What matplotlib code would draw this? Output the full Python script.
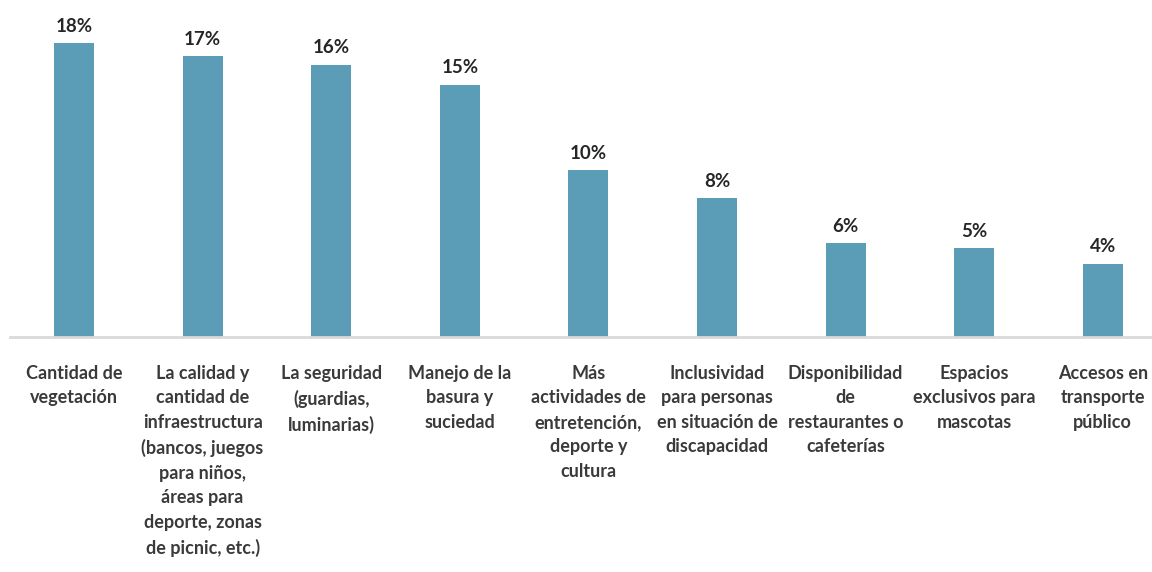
import matplotlib
matplotlib.use("Agg")
import matplotlib.pyplot as plt

categories = [
    "Cantidad de\nvegetación",
    "La calidad y\ncantidad de\ninfraestructura\n(bancos, juegos\npara niños,\náreas para\ndeporte, zonas\nde picnic, etc.)",
    "La seguridad\n(guardias,\nluminarias)",
    "Manejo de la\nbasura y\nsuciedad",
    "Más\nactividades de\nentretención,\ndeporte y\ncultura",
    "Inclusividad\npara personas\nen situación de\ndiscapacidad",
    "Disponibilidad\nde\nrestaurantes o\ncafeterías",
    "Espacios\nexclusivos para\nmascotas",
    "Accesos en\ntransporte\npúblico",
]
values = [17.6, 16.8, 16.3, 15.1, 10.0, 8.3, 5.6, 5.3, 4.4]
labels = ["18%", "17%", "16%", "15%", "10%", "8%", "6%", "5%", "4%"]

W, H = 1152, 572
fig = plt.figure(figsize=(W / 100, H / 100), dpi=100)
left_px, base_px, step_px, first_px = 9.7, 337, 128.6, 74
ppu = 16.7
ymax = 20
right_lim = (W - first_px) / step_px
ax = fig.add_axes([left_px / W, (H - base_px) / H, (W - left_px) / W, ymax * ppu / H])

x = list(range(len(categories)))
color = "#5B9DB7"
ax.bar(x, values, width=0.31, color=color, zorder=2)
ax.set_xlim(-0.5, right_lim)
ax.set_ylim(0, ymax)

font = "Lato"
for xi, v, lab in zip(x, values, labels):
    ax.annotate(lab, (xi, v), xytext=(0, 6), textcoords="offset points",
                ha="center", va="bottom", fontsize=13.5, fontweight="bold",
                family=font, color="#262626")

for s in ["top", "right", "left"]:
    ax.spines[s].set_visible(False)
ax.spines["bottom"].set_color("#D9D9D9")
ax.spines["bottom"].set_linewidth(2)
ax.set_yticks([])
ax.set_xticks(x)
ax.set_xticklabels(categories, fontsize=13, fontweight="bold", family=font,
                   color="#3A3A3A", linespacing=1.54, ha="center", va="top")
ax.tick_params(axis="x", length=0, pad=20)

fig.savefig("out.png", dpi=100)
